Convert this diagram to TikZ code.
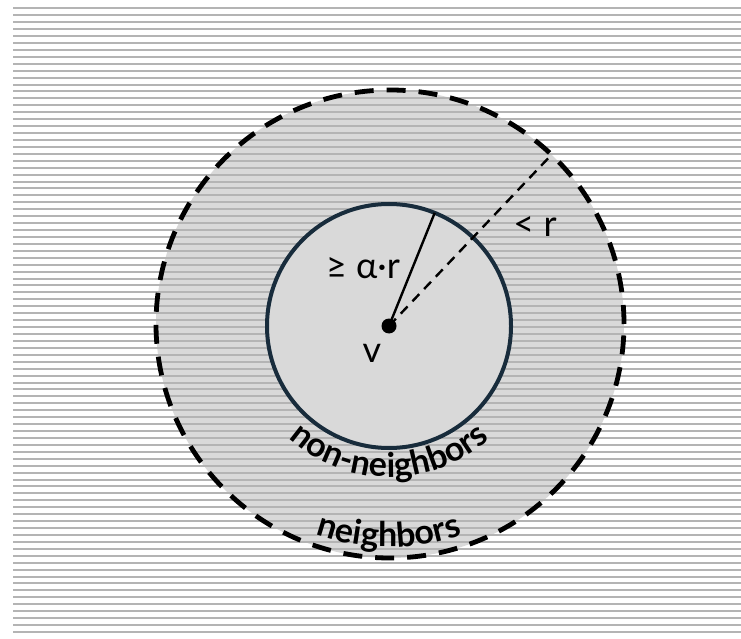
\documentclass[tikz,border=0pt]{standalone}
\usepackage{fontspec}
\setmainfont{Lato}
\usetikzlibrary{calc,decorations.text}
\definecolor{Navy}{HTML}{182C3C}
\definecolor{Fill}{HTML}{D9D9D9}
\definecolor{Hatch}{HTML}{B4B4B4}
\tikzset{hatch/.style={draw=Hatch,line width=2pt},disc/.style={fill=Fill,draw=none},boundary/.style={draw=Navy,line width=4pt},ring/.style={draw=black,line width=4.8pt,dash pattern=on 19pt off 13pt},spoke/.style={draw=black,line width=2.4pt},lbl/.style={font=\fontsize{36}{40}\selectfont,inner sep=0pt},arclbl/.style={decorate,decoration={text along path,text align=center,text={|\bfseries\fontsize{34}{38}\selectfont|#1}}}}

\begin{document}
\begin{tikzpicture}[x=1pt,y=1pt]
  \useasboundingbox (0,0) rectangle (741,638);
  \coordinate (v) at (389,312);
  \coordinate (o) at (390,314);
  \fill[disc] (o) circle[radius=234];
  \foreach \i in {0,...,90} \draw[hatch] (13,{629.7-6.93*\i}) -- (741,{629.7-6.93*\i});
  \path[disc,boundary] (v) circle[radius=122];
  \draw[ring] (o) circle[radius=234];
  \coordinate (tip) at ($(v)+(68:122)$);
  \coordinate (far) at ($(v)+(46.5:236)$);
  \draw[spoke] (v) -- (tip);
  \draw[spoke,dash pattern=on 10pt off 7pt] (v) -- (far);
  \fill (v) circle[radius=7.5];
  \node[lbl] (alpha) at (363,370) {≥ α·r};
  \node[lbl] (vlbl) at (372,285) {v};
  \node[lbl] (lessr) at (535,411) {< r};
  \path[arclbl=non-neighbors] ($(v)+(200:151)$) arc[start angle=200,end angle=340,radius=151];
  \path[arclbl=neighbors] ($(v)+(220:221)$) arc[start angle=220,end angle=320,radius=221];
\end{tikzpicture}
\end{document}
